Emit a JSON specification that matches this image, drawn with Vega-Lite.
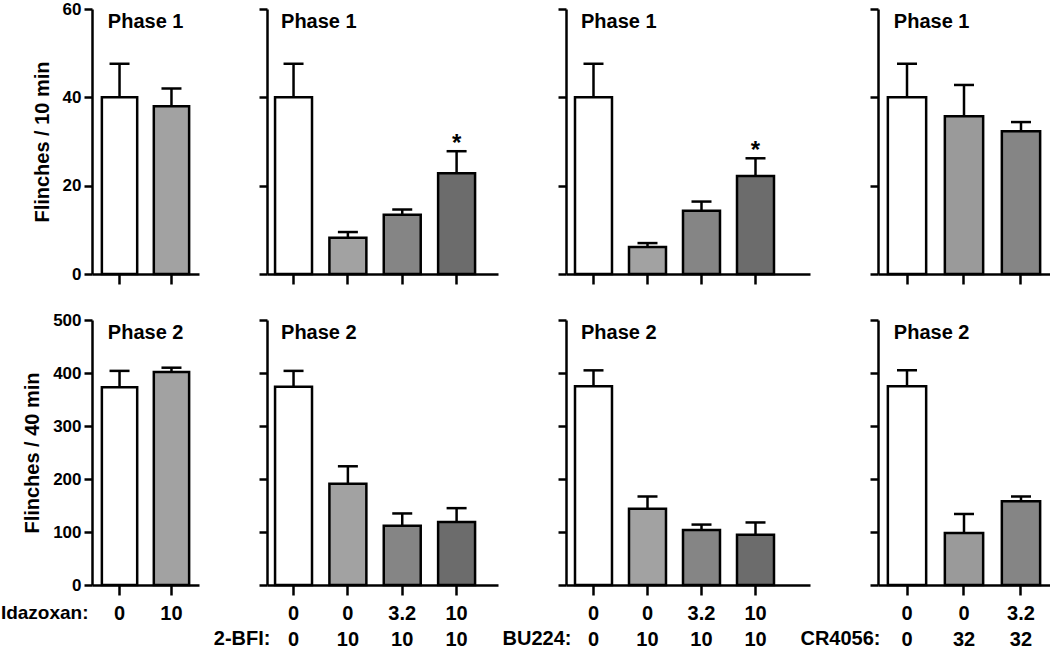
{
  "$schema": "https://vega.github.io/schema/vega-lite/v6.json",
  "padding": {"left": 0, "top": 0, "right": 0, "bottom": 0},
  "background": "white",
  "datasets": {
    "bars": [
      {"phase": 1, "panel": "Idazoxan", "dose": "0", "mean": 40.0, "upper": 47.6, "pattern": "open", "star": false},
      {"phase": 1, "panel": "Idazoxan", "dose": "10", "mean": 38.0, "upper": 42.0, "pattern": "hatch", "star": false},
      {"phase": 1, "panel": "2-BFI", "dose": "0|0", "mean": 40.0, "upper": 47.6, "pattern": "open", "star": false},
      {"phase": 1, "panel": "2-BFI", "dose": "0|10", "mean": 8.2, "upper": 9.5, "pattern": "hatch", "star": false},
      {"phase": 1, "panel": "2-BFI", "dose": "3.2|10", "mean": 13.4, "upper": 14.6, "pattern": "fine", "star": false},
      {"phase": 1, "panel": "2-BFI", "dose": "10|10", "mean": 22.8, "upper": 27.8, "pattern": "coarse", "star": true},
      {"phase": 1, "panel": "BU224", "dose": "0|0", "mean": 40.0, "upper": 47.6, "pattern": "open", "star": false},
      {"phase": 1, "panel": "BU224", "dose": "0|10", "mean": 6.1, "upper": 7.0, "pattern": "hatch", "star": false},
      {"phase": 1, "panel": "BU224", "dose": "3.2|10", "mean": 14.3, "upper": 16.4, "pattern": "fine", "star": false},
      {"phase": 1, "panel": "BU224", "dose": "10|10", "mean": 22.2, "upper": 26.2, "pattern": "coarse", "star": true},
      {"phase": 1, "panel": "CR4056", "dose": "0|0", "mean": 40.0, "upper": 47.6, "pattern": "open", "star": false},
      {"phase": 1, "panel": "CR4056", "dose": "0|32", "mean": 35.7, "upper": 42.8, "pattern": "hatch2", "star": false},
      {"phase": 1, "panel": "CR4056", "dose": "3.2|32", "mean": 32.3, "upper": 34.4, "pattern": "fine", "star": false},
      {"phase": 2, "panel": "Idazoxan", "dose": "0", "mean": 373, "upper": 404, "pattern": "open", "star": false},
      {"phase": 2, "panel": "Idazoxan", "dose": "10", "mean": 402, "upper": 410, "pattern": "hatch", "star": false},
      {"phase": 2, "panel": "2-BFI", "dose": "0|0", "mean": 374, "upper": 404, "pattern": "open", "star": false},
      {"phase": 2, "panel": "2-BFI", "dose": "0|10", "mean": 191, "upper": 224, "pattern": "hatch", "star": false},
      {"phase": 2, "panel": "2-BFI", "dose": "3.2|10", "mean": 112, "upper": 135, "pattern": "fine", "star": false},
      {"phase": 2, "panel": "2-BFI", "dose": "10|10", "mean": 119, "upper": 145, "pattern": "coarse", "star": false},
      {"phase": 2, "panel": "BU224", "dose": "0|0", "mean": 375, "upper": 405, "pattern": "open", "star": false},
      {"phase": 2, "panel": "BU224", "dose": "0|10", "mean": 144, "upper": 167, "pattern": "hatch", "star": false},
      {"phase": 2, "panel": "BU224", "dose": "3.2|10", "mean": 104, "upper": 114, "pattern": "fine", "star": false},
      {"phase": 2, "panel": "BU224", "dose": "10|10", "mean": 95, "upper": 118, "pattern": "coarse", "star": false},
      {"phase": 2, "panel": "CR4056", "dose": "0|0", "mean": 375, "upper": 405, "pattern": "open", "star": false},
      {"phase": 2, "panel": "CR4056", "dose": "0|32", "mean": 98, "upper": 134, "pattern": "hatch2", "star": false},
      {"phase": 2, "panel": "CR4056", "dose": "3.2|32", "mean": 158, "upper": 167, "pattern": "fine", "star": false}
    ]
  },
  "data": {"name": "bars"},
  "columns": 4,
  "align": "each",
  "bounds": "flush",
  "spacing": {"row": 46, "column": 68},
  "concat": [
    {
      "width": 107, "height": 265,
      "encoding": {"x": {"field": "dose", "type": "nominal", "sort": null, "scale": {"paddingInner": 0.32, "paddingOuter": 0.19, "align": 0.5}, "axis": {"labels": false, "title": null}}},
      "layer": [
        {"transform": [{"filter": "datum.phase == 1 && datum.panel == 'Idazoxan'"}], "mark": {"type": "rule", "color": "black", "strokeWidth": 2.5}, "encoding": {"y": {"field": "mean", "type": "quantitative", "scale": {"domain": [0, 60], "nice": false}, "axis": {"values": [0, 20, 40, 60], "title": "Flinches / 10 min", "labelFlush": false}}, "y2": {"field": "upper"}}},
        {"transform": [{"filter": "datum.phase == 1 && datum.panel == 'Idazoxan'"}], "mark": {"type": "tick", "color": "black", "thickness": 2.5, "size": 20, "opacity": 1}, "encoding": {"y": {"field": "upper", "type": "quantitative"}}},
        {"transform": [{"filter": "datum.phase == 1 && datum.panel == 'Idazoxan'"}], "mark": {"type": "bar", "stroke": "black", "strokeWidth": 2.5, "opacity": 1}, "encoding": {"y": {"field": "mean", "type": "quantitative"}, "fill": {"field": "pattern", "type": "nominal", "legend": null, "scale": {"domain": ["open", "hatch", "hatch2", "fine", "coarse"], "range": ["#ffffff", "#a2a2a2", "#9a9a9a", "#858585", "#6c6c6c"]}}}},
        {"data": {"values": [{"t": "Phase 1"}]}, "mark": {"type": "text", "align": "left", "baseline": "middle", "dx": 6, "dy": 13, "fontSize": 20, "fontWeight": "bold", "color": "black"}, "encoding": {"x": {"datum": "0", "bandPosition": 0}, "y": {"datum": 60}, "text": {"field": "t"}}}
      ]
    },
    {
      "width": 231, "height": 265,
      "encoding": {"x": {"field": "dose", "type": "nominal", "sort": null, "scale": {"paddingInner": 0.32, "paddingOuter": 0.285, "align": 0.26}, "axis": {"labels": false, "title": null}}},
      "layer": [
        {"transform": [{"filter": "datum.phase == 1 && datum.panel == '2-BFI'"}], "mark": {"type": "rule", "color": "black", "strokeWidth": 2.5}, "encoding": {"y": {"field": "mean", "type": "quantitative", "scale": {"domain": [0, 60], "nice": false}, "axis": {"values": [0, 20, 40, 60], "title": null, "labels": false}}, "y2": {"field": "upper"}}},
        {"transform": [{"filter": "datum.phase == 1 && datum.panel == '2-BFI'"}], "mark": {"type": "tick", "color": "black", "thickness": 2.5, "size": 20, "opacity": 1}, "encoding": {"y": {"field": "upper", "type": "quantitative"}}},
        {"transform": [{"filter": "datum.phase == 1 && datum.panel == '2-BFI'"}], "mark": {"type": "bar", "stroke": "black", "strokeWidth": 2.5, "opacity": 1}, "encoding": {"y": {"field": "mean", "type": "quantitative"}, "fill": {"field": "pattern", "type": "nominal", "legend": null, "scale": {"domain": ["open", "hatch", "hatch2", "fine", "coarse"], "range": ["#ffffff", "#a2a2a2", "#9a9a9a", "#858585", "#6c6c6c"]}}}},
        {"transform": [{"filter": "datum.phase == 1 && datum.panel == '2-BFI' && datum.star"}], "mark": {"type": "text", "text": "*", "fontSize": 24, "fontWeight": "bold", "baseline": "alphabetic", "dy": 0, "color": "black"}, "encoding": {"y": {"field": "upper", "type": "quantitative"}}},
        {"data": {"values": [{"t": "Phase 1"}]}, "mark": {"type": "text", "align": "left", "baseline": "middle", "dx": 6, "dy": 13, "fontSize": 20, "fontWeight": "bold", "color": "black"}, "encoding": {"x": {"datum": "0|0", "bandPosition": 0}, "y": {"datum": 60}, "text": {"field": "t"}}}
      ]
    },
    {
      "width": 244, "height": 265,
      "encoding": {"x": {"field": "dose", "type": "nominal", "sort": null, "scale": {"paddingInner": 0.315, "paddingOuter": 0.4167, "align": 0.2}, "axis": {"labels": false, "title": null}}},
      "layer": [
        {"transform": [{"filter": "datum.phase == 1 && datum.panel == 'BU224'"}], "mark": {"type": "rule", "color": "black", "strokeWidth": 2.5}, "encoding": {"y": {"field": "mean", "type": "quantitative", "scale": {"domain": [0, 60], "nice": false}, "axis": {"values": [0, 20, 40, 60], "title": null, "labels": false}}, "y2": {"field": "upper"}}},
        {"transform": [{"filter": "datum.phase == 1 && datum.panel == 'BU224'"}], "mark": {"type": "tick", "color": "black", "thickness": 2.5, "size": 20, "opacity": 1}, "encoding": {"y": {"field": "upper", "type": "quantitative"}}},
        {"transform": [{"filter": "datum.phase == 1 && datum.panel == 'BU224'"}], "mark": {"type": "bar", "stroke": "black", "strokeWidth": 2.5, "opacity": 1}, "encoding": {"y": {"field": "mean", "type": "quantitative"}, "fill": {"field": "pattern", "type": "nominal", "legend": null, "scale": {"domain": ["open", "hatch", "hatch2", "fine", "coarse"], "range": ["#ffffff", "#a2a2a2", "#9a9a9a", "#858585", "#6c6c6c"]}}}},
        {"transform": [{"filter": "datum.phase == 1 && datum.panel == 'BU224' && datum.star"}], "mark": {"type": "text", "text": "*", "fontSize": 24, "fontWeight": "bold", "baseline": "alphabetic", "dy": 0, "color": "black"}, "encoding": {"y": {"field": "upper", "type": "quantitative"}}},
        {"data": {"values": [{"t": "Phase 1"}]}, "mark": {"type": "text", "align": "left", "baseline": "middle", "dx": 6, "dy": 13, "fontSize": 20, "fontWeight": "bold", "color": "black"}, "encoding": {"x": {"datum": "0|0", "bandPosition": 0}, "y": {"datum": 60}, "text": {"field": "t"}}}
      ]
    },
    {
      "width": 172, "height": 265,
      "encoding": {"x": {"field": "dose", "type": "nominal", "sort": null, "scale": {"paddingInner": 0.328, "paddingOuter": 0.173, "align": 0.5}, "axis": {"labels": false, "title": null}}},
      "layer": [
        {"transform": [{"filter": "datum.phase == 1 && datum.panel == 'CR4056'"}], "mark": {"type": "rule", "color": "black", "strokeWidth": 2.5}, "encoding": {"y": {"field": "mean", "type": "quantitative", "scale": {"domain": [0, 60], "nice": false}, "axis": {"values": [0, 20, 40, 60], "title": null, "labels": false}}, "y2": {"field": "upper"}}},
        {"transform": [{"filter": "datum.phase == 1 && datum.panel == 'CR4056'"}], "mark": {"type": "tick", "color": "black", "thickness": 2.5, "size": 20, "opacity": 1}, "encoding": {"y": {"field": "upper", "type": "quantitative"}}},
        {"transform": [{"filter": "datum.phase == 1 && datum.panel == 'CR4056'"}], "mark": {"type": "bar", "stroke": "black", "strokeWidth": 2.5, "opacity": 1}, "encoding": {"y": {"field": "mean", "type": "quantitative"}, "fill": {"field": "pattern", "type": "nominal", "legend": null, "scale": {"domain": ["open", "hatch", "hatch2", "fine", "coarse"], "range": ["#ffffff", "#a2a2a2", "#9a9a9a", "#858585", "#6c6c6c"]}}}},
        {"data": {"values": [{"t": "Phase 1"}]}, "mark": {"type": "text", "align": "left", "baseline": "middle", "dx": 6, "dy": 13, "fontSize": 20, "fontWeight": "bold", "color": "black"}, "encoding": {"x": {"datum": "0|0", "bandPosition": 0}, "y": {"datum": 60}, "text": {"field": "t"}}}
      ]
    },
    {
      "width": 107, "height": 265,
      "encoding": {"x": {"field": "dose", "type": "nominal", "sort": null, "scale": {"paddingInner": 0.32, "paddingOuter": 0.19, "align": 0.5}, "axis": {"labelExpr": "split(datum.label, '|')", "title": "Idazoxan:", "titleFontSize": 19, "titleX": -4, "titleY": 27, "titleAlign": "right", "titleBaseline": "middle", "titleAngle": 0}}},
      "layer": [
        {"transform": [{"filter": "datum.phase == 2 && datum.panel == 'Idazoxan'"}], "mark": {"type": "rule", "color": "black", "strokeWidth": 2.5}, "encoding": {"y": {"field": "mean", "type": "quantitative", "scale": {"domain": [0, 500], "nice": false}, "axis": {"values": [0, 100, 200, 300, 400, 500], "title": "Flinches / 40 min", "labelFlush": false}}, "y2": {"field": "upper"}}},
        {"transform": [{"filter": "datum.phase == 2 && datum.panel == 'Idazoxan'"}], "mark": {"type": "tick", "color": "black", "thickness": 2.5, "size": 20, "opacity": 1}, "encoding": {"y": {"field": "upper", "type": "quantitative"}}},
        {"transform": [{"filter": "datum.phase == 2 && datum.panel == 'Idazoxan'"}], "mark": {"type": "bar", "stroke": "black", "strokeWidth": 2.5, "opacity": 1}, "encoding": {"y": {"field": "mean", "type": "quantitative"}, "fill": {"field": "pattern", "type": "nominal", "legend": null, "scale": {"domain": ["open", "hatch", "hatch2", "fine", "coarse"], "range": ["#ffffff", "#a2a2a2", "#9a9a9a", "#858585", "#6c6c6c"]}}}},
        {"data": {"values": [{"t": "Phase 2"}]}, "mark": {"type": "text", "align": "left", "baseline": "middle", "dx": 6, "dy": 13, "fontSize": 20, "fontWeight": "bold", "color": "black"}, "encoding": {"x": {"datum": "0", "bandPosition": 0}, "y": {"datum": 500}, "text": {"field": "t"}}}
      ]
    },
    {
      "width": 231, "height": 265,
      "encoding": {"x": {"field": "dose", "type": "nominal", "sort": null, "scale": {"paddingInner": 0.32, "paddingOuter": 0.285, "align": 0.26}, "axis": {"labelExpr": "split(datum.label, '|')", "title": "2-BFI:", "titleX": 3, "titleY": 53, "titleAlign": "right", "titleBaseline": "middle", "titleAngle": 0}}},
      "layer": [
        {"transform": [{"filter": "datum.phase == 2 && datum.panel == '2-BFI'"}], "mark": {"type": "rule", "color": "black", "strokeWidth": 2.5}, "encoding": {"y": {"field": "mean", "type": "quantitative", "scale": {"domain": [0, 500], "nice": false}, "axis": {"values": [0, 100, 200, 300, 400, 500], "title": null, "labels": false}}, "y2": {"field": "upper"}}},
        {"transform": [{"filter": "datum.phase == 2 && datum.panel == '2-BFI'"}], "mark": {"type": "tick", "color": "black", "thickness": 2.5, "size": 20, "opacity": 1}, "encoding": {"y": {"field": "upper", "type": "quantitative"}}},
        {"transform": [{"filter": "datum.phase == 2 && datum.panel == '2-BFI'"}], "mark": {"type": "bar", "stroke": "black", "strokeWidth": 2.5, "opacity": 1}, "encoding": {"y": {"field": "mean", "type": "quantitative"}, "fill": {"field": "pattern", "type": "nominal", "legend": null, "scale": {"domain": ["open", "hatch", "hatch2", "fine", "coarse"], "range": ["#ffffff", "#a2a2a2", "#9a9a9a", "#858585", "#6c6c6c"]}}}},
        {"data": {"values": [{"t": "Phase 2"}]}, "mark": {"type": "text", "align": "left", "baseline": "middle", "dx": 6, "dy": 13, "fontSize": 20, "fontWeight": "bold", "color": "black"}, "encoding": {"x": {"datum": "0|0", "bandPosition": 0}, "y": {"datum": 500}, "text": {"field": "t"}}}
      ]
    },
    {
      "width": 244, "height": 265,
      "encoding": {"x": {"field": "dose", "type": "nominal", "sort": null, "scale": {"paddingInner": 0.315, "paddingOuter": 0.4167, "align": 0.2}, "axis": {"labelExpr": "split(datum.label, '|')", "title": "BU224:", "titleX": 5, "titleY": 53, "titleAlign": "right", "titleBaseline": "middle", "titleAngle": 0}}},
      "layer": [
        {"transform": [{"filter": "datum.phase == 2 && datum.panel == 'BU224'"}], "mark": {"type": "rule", "color": "black", "strokeWidth": 2.5}, "encoding": {"y": {"field": "mean", "type": "quantitative", "scale": {"domain": [0, 500], "nice": false}, "axis": {"values": [0, 100, 200, 300, 400, 500], "title": null, "labels": false}}, "y2": {"field": "upper"}}},
        {"transform": [{"filter": "datum.phase == 2 && datum.panel == 'BU224'"}], "mark": {"type": "tick", "color": "black", "thickness": 2.5, "size": 20, "opacity": 1}, "encoding": {"y": {"field": "upper", "type": "quantitative"}}},
        {"transform": [{"filter": "datum.phase == 2 && datum.panel == 'BU224'"}], "mark": {"type": "bar", "stroke": "black", "strokeWidth": 2.5, "opacity": 1}, "encoding": {"y": {"field": "mean", "type": "quantitative"}, "fill": {"field": "pattern", "type": "nominal", "legend": null, "scale": {"domain": ["open", "hatch", "hatch2", "fine", "coarse"], "range": ["#ffffff", "#a2a2a2", "#9a9a9a", "#858585", "#6c6c6c"]}}}},
        {"data": {"values": [{"t": "Phase 2"}]}, "mark": {"type": "text", "align": "left", "baseline": "middle", "dx": 6, "dy": 13, "fontSize": 20, "fontWeight": "bold", "color": "black"}, "encoding": {"x": {"datum": "0|0", "bandPosition": 0}, "y": {"datum": 500}, "text": {"field": "t"}}}
      ]
    },
    {
      "width": 172, "height": 265,
      "encoding": {"x": {"field": "dose", "type": "nominal", "sort": null, "scale": {"paddingInner": 0.328, "paddingOuter": 0.173, "align": 0.5}, "axis": {"labelExpr": "split(datum.label, '|')", "title": "CR4056:", "titleX": 2, "titleY": 53, "titleAlign": "right", "titleBaseline": "middle", "titleAngle": 0}}},
      "layer": [
        {"transform": [{"filter": "datum.phase == 2 && datum.panel == 'CR4056'"}], "mark": {"type": "rule", "color": "black", "strokeWidth": 2.5}, "encoding": {"y": {"field": "mean", "type": "quantitative", "scale": {"domain": [0, 500], "nice": false}, "axis": {"values": [0, 100, 200, 300, 400, 500], "title": null, "labels": false}}, "y2": {"field": "upper"}}},
        {"transform": [{"filter": "datum.phase == 2 && datum.panel == 'CR4056'"}], "mark": {"type": "tick", "color": "black", "thickness": 2.5, "size": 20, "opacity": 1}, "encoding": {"y": {"field": "upper", "type": "quantitative"}}},
        {"transform": [{"filter": "datum.phase == 2 && datum.panel == 'CR4056'"}], "mark": {"type": "bar", "stroke": "black", "strokeWidth": 2.5, "opacity": 1}, "encoding": {"y": {"field": "mean", "type": "quantitative"}, "fill": {"field": "pattern", "type": "nominal", "legend": null, "scale": {"domain": ["open", "hatch", "hatch2", "fine", "coarse"], "range": ["#ffffff", "#a2a2a2", "#9a9a9a", "#858585", "#6c6c6c"]}}}},
        {"data": {"values": [{"t": "Phase 2"}]}, "mark": {"type": "text", "align": "left", "baseline": "middle", "dx": 6, "dy": 13, "fontSize": 20, "fontWeight": "bold", "color": "black"}, "encoding": {"x": {"datum": "0|0", "bandPosition": 0}, "y": {"datum": 500}, "text": {"field": "t"}}}
      ]
    }
  ],
  "resolve": {"scale": {"fill": "shared"}},
  "config": {
    "font": "Liberation Sans",
    "view": {"stroke": null},
    "axis": {"domainColor": "black", "domainWidth": 2.5, "tickColor": "black", "tickWidth": 2.5, "grid": false, "labelFont": "Liberation Sans", "labelFontWeight": "bold", "labelColor": "black", "titleFont": "Liberation Sans", "titleFontWeight": "bold", "titleColor": "black"},
    "axisY": {"tickSize": 8, "labelFontSize": 17, "labelPadding": 3, "titleFontSize": 20, "titlePadding": 10},
    "axisX": {"tickSize": 10, "labelFontSize": 20, "labelPadding": 8, "labelAngle": 0, "labelLineHeight": 26, "titleFontSize": 20}
  }
}
